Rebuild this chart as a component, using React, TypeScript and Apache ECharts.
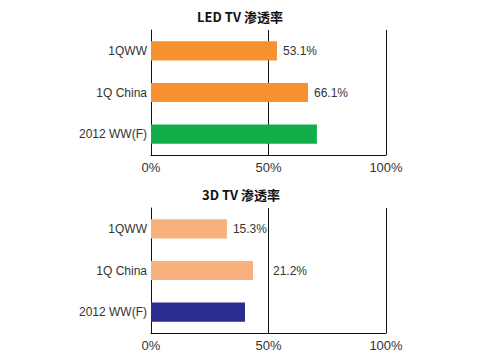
import React, { useEffect, useRef } from "react";
import * as echarts from "echarts";

const categories = ["1QWW", "1Q China", "2012 WW(F)"];
const xTicks = [0, 50, 100];

const ledTitle = "LED TV 渗透率";
const ledValues = [53.6, 66.8, 70.6];
const ledLabels = ["53.1%", "66.1%", ""];
const ledColors = ["#F7902E", "#F7902E", "#13AE4A"];

const tdTitle = "3D TV 渗透率";
const tdValues = [32.3, 43.4, 40.0];
const tdLabels = ["15.3%", "21.2%", ""];
const tdColors = ["#F8B07C", "#F8B07C", "#2B2D8E"];
const tdLabelOffsets = [[0, 0], [14, 0], [0, 0]];

const FONT = "Liberation Sans, Arial, sans-serif";

export default function App() {
  const ref = useRef<HTMLDivElement>(null);
  useEffect(() => {
    if (!ref.current) return;
    const chart = echarts.init(ref.current, undefined, { renderer: "svg" });

    const makeX = (gridIndex: number) => ({
      type: "value",
      gridIndex,
      min: 0,
      max: 100,
      interval: 50,
      axisLine: { show: true, lineStyle: { color: "#111", width: 1 } },
      axisTick: { show: false },
      splitLine: { show: true, lineStyle: { color: "#111", width: 1 } },
      axisLabel: {
        formatter: (v: number) => (xTicks.includes(v) ? v + "%" : ""),
        color: "#333",
        fontSize: 13,
        fontFamily: FONT,
        margin: 6,
      },
    });
    const makeY = (gridIndex: number) => ({
      type: "category",
      gridIndex,
      data: categories,
      inverse: true,
      axisLine: { show: true, lineStyle: { color: "#111", width: 1 } },
      axisTick: { show: false },
      axisLabel: { color: "#333", fontSize: 12, fontFamily: FONT, margin: 4 },
    });

    chart.setOption({
      animation: false,
      backgroundColor: "#fff",
      graphic: [
        {
          type: "text",
          x: 240,
          y: 16,
          style: {
            text: ledTitle,
            fill: "#111",
            font: "bold 13px 'Noto Sans CJK SC', sans-serif",
            textAlign: "center",
            textVerticalAlign: "middle",
          },
        },
        {
          type: "text",
          x: 241,
          y: 194,
          style: {
            text: tdTitle,
            fill: "#111",
            font: "bold 13px 'Noto Sans CJK SC', sans-serif",
            textAlign: "center",
            textVerticalAlign: "middle",
          },
        },
      ],
      grid: [
        { left: 151, top: 30, width: 235, height: 125 },
        { left: 151, top: 208, width: 235, height: 125 },
      ],
      xAxis: [makeX(0), makeX(1)],
      yAxis: [makeY(0), makeY(1)],
      series: [
        {
          type: "bar",
          xAxisIndex: 0,
          yAxisIndex: 0,
          barWidth: "46%",
          data: ledValues.map((v, i) => ({
            value: v,
            itemStyle: { color: ledColors[i] },
            label: {
              show: ledLabels[i] !== "",
              position: "right",
              distance: 6,
              formatter: ledLabels[i],
              color: "#333",
              fontSize: 12,
              fontFamily: FONT,
            },
          })),
        },
        {
          type: "bar",
          xAxisIndex: 1,
          yAxisIndex: 1,
          barWidth: "46%",
          data: tdValues.map((v, i) => ({
            value: v,
            itemStyle: { color: tdColors[i] },
            label: {
              show: tdLabels[i] !== "",
              position: "right",
              distance: 6,
              offset: tdLabelOffsets[i],
              formatter: tdLabels[i],
              color: "#333",
              fontSize: 12,
              fontFamily: FONT,
            },
          })),
        },
      ],
    });
    return () => chart.dispose();
  }, []);
  return (
    <div
      ref={ref}
      style={{ position: "fixed", left: 0, top: 0, width: 500, height: 357 }}
    />
  );
}
